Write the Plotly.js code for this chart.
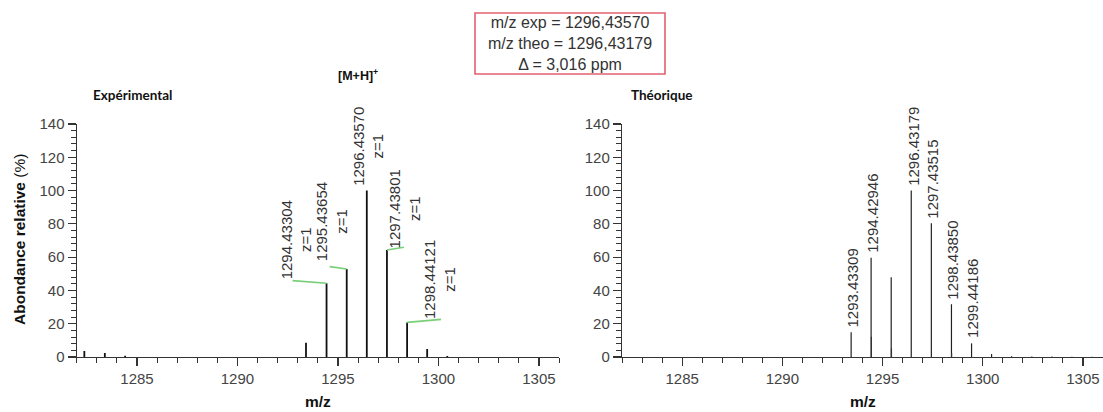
<!DOCTYPE html>
<html>
<head>
<meta charset="utf-8">
<script src="https://cdn.plot.ly/plotly-3.0.1.min.js"></script>
<style>html,body{margin:0;padding:0;background:#fff;}#chart{width:1103px;height:412px;}</style>
</head>
<body>
<div id="chart"></div>
<script>
// ---- Experimental spectrum (m/z, relative abundance %) ----
const expMz    = [1282.38, 1283.40, 1284.41, 1293.41, 1294.43304, 1295.43654, 1296.43570, 1297.43801, 1298.44121, 1299.44, 1300.44];
const expAbund = [3.6, 2.4, 0.7, 8.6, 44.3, 52.9, 100, 64.3, 20.8, 4.8, 0.6];
// indices of labelled experimental peaks (charge z=1)
const expLabelIdx = [4, 5, 6, 7, 8];
const expCharge = "z=1";

// ---- Theoretical spectrum ----
const theoMz    = [1293.43309, 1294.42946, 1295.43210, 1296.43179, 1297.43515, 1298.43850, 1299.44186, 1300.44, 1301.44, 1302.45, 1303.45, 1304.45, 1305.45];
const theoAbund = [14.8, 59.7, 47.9, 100, 80.3, 31.7, 8.2, 1.8, 0.5, 0.3, 0.3, 0.2, 0.2];
const theoLabelIdx = [0, 1, 3, 4, 5, 6];
// minor fine-structure sticks under the theoretical peaks
const theoFineMz    = [1294.445, 1295.445, 1298.445];
const theoFineAbund = [12.2, 5.2, 2.4];

// ---- Texts ----
const titleExp = "Expérimental";
const titleTheo = "Théorique";
const ionLabel = "[M+H]<sup>+</sup>";
const xTitle = "m/z";
const yTitle = "<b>Abondance relative</b> (%)";
const xTicks = [1285, 1290, 1295, 1300, 1305];
const yTicks = [0, 20, 40, 60, 80, 100, 120, 140];

function sticks(xs, ys) {
  const X = [], Y = [];
  xs.forEach((x, i) => { X.push(x, x, null); Y.push(0, ys[i], null); });
  return {X, Y};
}

const e = sticks(expMz, expAbund);
const t = sticks(theoMz, theoAbund);
const tf = sticks(theoFineMz, theoFineAbund);

const traces = [
  {x: e.X, y: e.Y, xaxis: 'x', yaxis: 'y', mode: 'lines', line: {color: '#111', width: 1.8}, hoverinfo: 'skip'},
  {x: t.X, y: t.Y, xaxis: 'x2', yaxis: 'y2', mode: 'lines', line: {color: '#222', width: 1.2}, hoverinfo: 'skip'},
  {x: tf.X, y: tf.Y, xaxis: 'x2', yaxis: 'y2', mode: 'lines', line: {color: '#333', width: 1.2}, hoverinfo: 'skip'}
];

const W = 1103, H = 412;
const px = v => v / W;
const py = v => 1 - v / H;

const labelFont = {family: 'Arial, Liberation Sans, sans-serif', size: 15, color: '#333'};
const tickFont = {family: 'Arial, Liberation Sans, sans-serif', size: 15, color: '#444'};

// label placement offsets (pixels) for experimental labels
const expDx = [-30, -15, 1, 18, 33];
const expDy = [2, 6, 3, 0, 1];
const greenDx = [-34, -17, null, 17, 34];
const greenDy = [2.6, 2.3, null, 2.7, 3];

const annotations = [];
const shapes = [];

expLabelIdx.forEach((idx, k) => {
  annotations.push({
    xref: 'x', yref: 'y', x: expMz[idx], y: expAbund[idx],
    text: expMz[idx].toFixed(5) + '<br>' + expCharge,
    textangle: -90, showarrow: false, xanchor: 'center', yanchor: 'bottom',
    xshift: expDx[k], yshift: expDy[k], font: labelFont
  });
  if (greenDx[k] !== null) {
    shapes.push({
      type: 'line', xref: 'x', yref: 'y',
      xsizemode: 'pixel', ysizemode: 'pixel',
      xanchor: expMz[idx], yanchor: expAbund[idx],
      x0: 0, y0: 0, x1: greenDx[k], y1: greenDy[k],
      line: {color: '#79cf79', width: 1.6}
    });
  }
});

theoLabelIdx.forEach(idx => {
  annotations.push({
    xref: 'x2', yref: 'y2', x: theoMz[idx], y: theoAbund[idx],
    text: theoMz[idx].toFixed(5),
    textangle: -90, showarrow: false, xanchor: 'center', yanchor: 'bottom',
    xshift: 1.5, yshift: 3, font: labelFont
  });
});

// panel titles and axis titles
const boldFont = {family: 'Lato, Arial, sans-serif', size: 13.5, color: '#111'};
annotations.push({xref: 'paper', yref: 'paper', x: px(132), y: py(95), text: '<b>' + titleExp + '</b>', showarrow: false, xanchor: 'center', yanchor: 'middle', font: boldFont});
annotations.push({xref: 'paper', yref: 'paper', x: px(662), y: py(95), text: '<b>' + titleTheo + '</b>', showarrow: false, xanchor: 'center', yanchor: 'middle', font: boldFont});
annotations.push({xref: 'paper', yref: 'paper', x: px(358), y: py(75), text: '<b>' + ionLabel + '</b>', showarrow: false, xanchor: 'center', yanchor: 'middle', font: {family: 'Arial, Liberation Sans, sans-serif', size: 12.5, color: '#111'}});

const dom1 = [px(76.7), px(559)];
const dom2 = [px(622), 1];
const mzTitleFont = {family: 'Arial, Liberation Sans, sans-serif', size: 15.5, color: '#111'};
annotations.push({xref: 'paper', yref: 'paper', x: (dom1[0] + dom1[1]) / 2, y: py(401), text: '<b>' + xTitle + '</b>', showarrow: false, xanchor: 'center', yanchor: 'middle', font: mzTitleFont});
annotations.push({xref: 'paper', yref: 'paper', x: (dom2[0] + dom2[1]) / 2, y: py(401), text: '<b>' + xTitle + '</b>', showarrow: false, xanchor: 'center', yanchor: 'middle', font: mzTitleFont});
annotations.push({xref: 'paper', yref: 'paper', x: px(20), y: py(240), text: yTitle, textangle: -90, showarrow: false, xanchor: 'center', yanchor: 'middle', font: {family: 'Arial, Liberation Sans, sans-serif', size: 15.5, color: '#111'}});

// mass accuracy box
const mzExp = expMz[6], mzTheo = theoMz[3];
const ppm = (mzExp - mzTheo) / mzTheo * 1e6;
const fr = v => v.toFixed(5).replace('.', ',');
const boxText = 'm/z exp = ' + fr(mzExp) + '<br>m/z theo = ' + fr(mzTheo) + '<br>Δ = ' + ppm.toFixed(3).replace('.', ',') + ' ppm';
shapes.push({type: 'rect', xref: 'paper', yref: 'paper', x0: px(475), x1: px(665), y0: py(74), y1: py(13), line: {color: 'rgb(226,96,112)', width: 1.6}, fillcolor: 'rgba(0,0,0,0)'});
annotations.push({xref: 'paper', yref: 'paper', x: px(570), y: py(44), text: boxText, showarrow: false, xanchor: 'center', yanchor: 'middle', align: 'center', font: {family: 'Arial, Liberation Sans, sans-serif', size: 16, color: '#333'}});

function xAxis(dom, anchor) {
  return {
    domain: dom, anchor: anchor, range: [1282, 1306], showgrid: false, zeroline: false,
    showline: true, linecolor: '#333', linewidth: 1.2,
    tickmode: 'array', tickvals: xTicks, ticktext: xTicks.map(String),
    ticks: 'outside', ticklen: 8, tickwidth: 1.2, tickcolor: '#333', tickfont: tickFont,
    minor: {tickmode: 'linear', tick0: 1282, dtick: 1, ticks: 'outside', ticklen: 5, tickwidth: 1, tickcolor: '#333'},
    fixedrange: true
  };
}
function yAxis(anchor) {
  return {
    domain: [py(357), py(124)], anchor: anchor, range: [0, 140], showgrid: false, zeroline: false,
    showline: true, linecolor: '#333', linewidth: 1.2,
    tickmode: 'array', tickvals: yTicks, ticktext: yTicks.map(String),
    ticks: 'outside', ticklen: 8, tickwidth: 1.2, tickcolor: '#333', tickfont: tickFont,
    minor: {tickmode: 'linear', tick0: 0, dtick: 4, ticks: 'outside', ticklen: 5, tickwidth: 1, tickcolor: '#333'},
    fixedrange: true
  };
}

const layout = {
  width: W, height: H, margin: {l: 0, r: 0, t: 0, b: 0},
  paper_bgcolor: '#fff', plot_bgcolor: 'rgba(0,0,0,0)', showlegend: false,
  xaxis: xAxis(dom1, 'y'), yaxis: yAxis('x'),
  xaxis2: xAxis(dom2, 'y2'), yaxis2: yAxis('x2'),
  annotations: annotations, shapes: shapes
};

Plotly.newPlot('chart', traces, layout, {displayModeBar: false, staticPlot: true});
</script>
</body>
</html>
